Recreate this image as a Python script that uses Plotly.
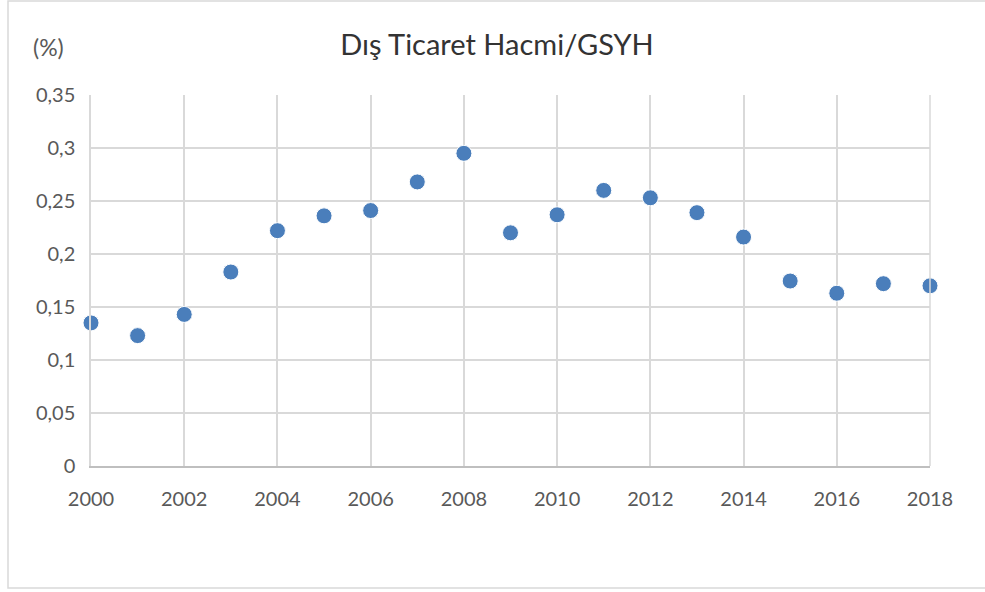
import plotly.graph_objects as go

years = list(range(2000, 2019))
values = [0.135, 0.123, 0.143, 0.183, 0.222, 0.236, 0.241, 0.268, 0.295, 0.220,
          0.237, 0.260, 0.253, 0.239, 0.216, 0.1745, 0.163, 0.172, 0.170]
y_ticks = [0, 0.05, 0.1, 0.15, 0.2, 0.25, 0.3, 0.35]
y_labels = ["0", "0,05", "0,1", "0,15", "0,2", "0,25", "0,3", "0,35"]
x_ticks = list(range(2000, 2019, 2))
title_text = "Dış Ticaret Hacmi/GSYH"
unit_text = "(%)"

FONT = "Lato, 'Open Sans', sans-serif"
W, H = 985, 592
L, R, T, B = 91, 930, 95, 466
pw, ph = R - L, B - T

def px_x(p):
    return (p - L) / pw

def px_y(p):
    return (B - p) / ph

fig = go.Figure()
fig.add_trace(go.Scatter(
    x=years, y=values, mode="markers",
    marker=dict(size=16, color="#4a7ebb", line=dict(color="white", width=1)),
    cliponaxis=False, showlegend=False,
))

fig.update_layout(
    width=W, height=H,
    margin=dict(l=L, r=W - R, t=T, b=H - B),
    paper_bgcolor="white", plot_bgcolor="white",
    font=dict(family=FONT, color="#595959", size=20),
    title=dict(text=title_text, x=497 / W, xanchor="center",
               y=1 - 45 / H, yanchor="middle",
               font=dict(family=FONT, size=29, color="#333333")),
    xaxis=dict(range=[2000, 2018], tickvals=x_ticks, showgrid=True,
               gridcolor="#d9d9d9", gridwidth=1.5, showline=True,
               linecolor="#bfbfbf", linewidth=1.5, zeroline=False,
               ticks="", ticklabelstandoff=14,
               tickfont=dict(family=FONT, size=20, color="#595959")),
    yaxis=dict(range=[0, 0.35], tickvals=y_ticks, ticktext=y_labels,
               showgrid=True, gridcolor="#d9d9d9", gridwidth=1.5,
               showline=True, linecolor="#d9d9d9", linewidth=1.5,
               zeroline=False, ticks="", ticklabelstandoff=10,
               tickfont=dict(family=FONT, size=20, color="#595959")),
    shapes=[
        dict(type="rect", xref="paper", yref="paper",
             x0=px_x(8), x1=px_x(W + 20), y0=px_y(588), y1=px_y(1),
             line=dict(color="#d9d9d9", width=1.5), fillcolor="rgba(0,0,0,0)",
             layer="below"),
        dict(type="line", xref="paper", yref="paper",
             x0=1, x1=1, y0=0, y1=1, line=dict(color="#d9d9d9", width=1.5)),
    ],
    annotations=[
        dict(text=unit_text, xref="paper", yref="paper", x=px_x(48), y=px_y(47),
             xanchor="center", yanchor="middle", showarrow=False,
             font=dict(family=FONT, size=23, color="#595959")),
    ],
)

fig.write_html("out.html", config={"displayModeBar": False},
               post_script="document.body.style.margin='0';document.body.style.overflow='hidden';")
